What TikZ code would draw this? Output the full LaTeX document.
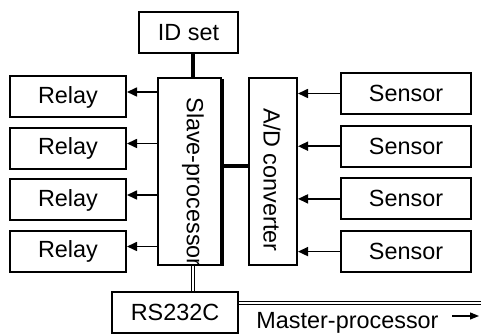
\documentclass[tikz,border=0pt]{standalone}
\usepackage{fontspec}
\setmainfont{Liberation Sans}
\usetikzlibrary{arrows.meta,positioning,shadows}

\begin{document}
\begin{tikzpicture}[x=0.5pt,y=-0.5pt,node distance=4.25pt and 16pt,
  blk/.style={draw,line width=1pt,inner sep=0pt,minimum height=20.5pt,font=\fontsize{11.7}{13}\selectfont},
  lbl/.style={inner sep=0pt,font=\fontsize{11.7}{13}\selectfont},
  sig/.style={-{Triangle[length=5pt,width=4.5pt]},line width=0.8pt},
  bus/.style={line width=2pt},
  ser/.style={double,line width=0.7pt,double distance=1pt}]
\useasboundingbox (0,0) rectangle (481,335);
\node[blk,minimum width=49.5pt] (id) at (188.5,32.5) {ID set};
\node[blk,minimum width=31.5pt,minimum height=93.5pt,fill=white,general shadow={fill=black,shadow xshift=1.5pt,shadow yshift=-0.75pt}] (sp) at (189.5,171.5) {};
\node[lbl,rotate=-90] (spt) at (193,182) {Slave-processor};
\node[blk,minimum width=24pt,minimum height=93.5pt] (ad) at (273,171.5) {};
\node[lbl,rotate=-90] (adt) at (272,180) {A/D converter};
\node[blk,minimum width=58pt] (r1) at (68,97) {Relay};
\foreach \i/\j in {2/1,3/2,4/3} \node[blk,minimum width=58pt,below=of r\j] (r\i) {Relay};
\node[blk,minimum width=65pt] (s1) at (406,93.5) {Sensor};
\foreach \i/\j in {2/1,3/2,4/3} \node[blk,minimum width=65pt,below=4.85pt of s\j] (s\i) {Sensor};
\node[blk,minimum width=63pt] (rs) at (175,312.5) {RS232C};
\node[lbl,anchor=base] (mp) at (347.5,329) {Master-processor};
\coordinate (mend) at (481,303);
\coordinate (mpa) at (452,316);
\coordinate (mpb) at (479,316);
% links
\draw[bus] ([xshift=2pt]id.south) -- ([xshift=2pt]id.south |- sp.north);
\draw[bus] ([yshift=2.75pt]sp.east) -- ([yshift=2.75pt]sp.east -| ad.west);
\foreach \i in {1,2,3,4} {
  \path ([yshift=2.5pt]r\i.east) coordinate (ra\i);
  \draw[sig] (ra\i -| sp.west) -- (ra\i);
  \draw[sig] (s\i.west) -- (s\i.west -| ad.east);
}
\draw[ser] ([xshift=1.75pt]sp.south) -- ([xshift=1.75pt]sp.south |- rs.north);
\draw[ser] (rs.east |- mend) -- (mend);
\draw[-{Triangle[length=4.5pt,width=3.5pt]},line width=0.6pt] (mpa) -- (mpb);
\end{tikzpicture}
\end{document}
